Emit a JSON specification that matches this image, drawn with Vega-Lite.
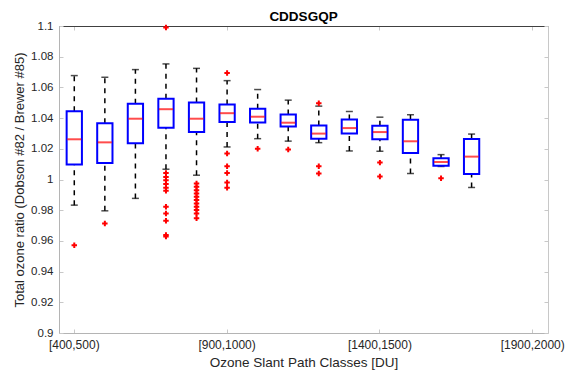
{
  "$schema": "https://vega.github.io/schema/vega-lite/v6.json",
  "width": 489,
  "height": 307,
  "autosize": {"type": "none"},
  "padding": {"left": 59, "top": 26, "right": 27, "bottom": 42},
  "background": "white",
  "title": {"text": "CDDSGQP", "fontSize": 13.5, "fontWeight": "bold", "color": "#000000", "font": "Liberation Sans", "offset": -3, "anchor": "middle"},
  "config": {
    "view": {"stroke": null},
    "font": "Liberation Sans"
  },
  "datasets": {
    "classes": [
      {"cls": "[400,500)"}, {"cls": "[500,600)"}, {"cls": "[600,700)"}, {"cls": "[700,800)"},
      {"cls": "[800,900)"}, {"cls": "[900,1000)"}, {"cls": "[1000,1100)"}, {"cls": "[1100,1200)"},
      {"cls": "[1200,1300)"}, {"cls": "[1300,1400)"}, {"cls": "[1400,1500)"}, {"cls": "[1500,1600)"},
      {"cls": "[1600,1700)"}, {"cls": "[1700,1800)"}, {"cls": "[1800,1900)"}, {"cls": "[1900,2000)"}
    ],
    "boxes": [
      {"cls": "[400,500)", "lo": 0.9833, "q1": 1.0097, "med": 1.0262, "q3": 1.0445, "hi": 1.0677},
      {"cls": "[500,600)", "lo": 0.9796, "q1": 1.0108, "med": 1.0242, "q3": 1.0367, "hi": 1.0666},
      {"cls": "[600,700)", "lo": 0.9877, "q1": 1.0236, "med": 1.0396, "q3": 1.0493, "hi": 1.0716},
      {"cls": "[700,800)", "lo": 1.0067, "q1": 1.0337, "med": 1.0458, "q3": 1.0526, "hi": 1.0753},
      {"cls": "[800,900)", "lo": 1.0028, "q1": 1.0309, "med": 1.0396, "q3": 1.0502, "hi": 1.0724},
      {"cls": "[900,1000)", "lo": 1.0212, "q1": 1.0374, "med": 1.0432, "q3": 1.0489, "hi": 1.0644},
      {"cls": "[1000,1100)", "lo": 1.0266, "q1": 1.0372, "med": 1.0409, "q3": 1.0461, "hi": 1.0586},
      {"cls": "[1100,1200)", "lo": 1.025, "q1": 1.0346, "med": 1.037, "q3": 1.0424, "hi": 1.0517},
      {"cls": "[1200,1300)", "lo": 1.024, "q1": 1.0266, "med": 1.0299, "q3": 1.0352, "hi": 1.0478},
      {"cls": "[1300,1400)", "lo": 1.0186, "q1": 1.0299, "med": 1.0335, "q3": 1.0391, "hi": 1.0443},
      {"cls": "[1400,1500)", "lo": 1.0184, "q1": 1.0262, "med": 1.0309, "q3": 1.035, "hi": 1.0406},
      {"cls": "[1500,1600)", "lo": 1.0039, "q1": 1.0173, "med": 1.0249, "q3": 1.0389, "hi": 1.0422},
      {"cls": "[1600,1700)", "lo": 1.0085, "q1": 1.009, "med": 1.0114, "q3": 1.0138, "hi": 1.0162},
      {"cls": "[1700,1800)", "lo": 0.9948, "q1": 1.0036, "med": 1.0149, "q3": 1.0264, "hi": 1.0296}
    ],
    "outliers": [
      {"cls": "[400,500)", "v": 0.9572},
      {"cls": "[500,600)", "v": 0.9714},
      {"cls": "[700,800)", "v": 1.099},
      {"cls": "[700,800)", "v": 1.0043},
      {"cls": "[700,800)", "v": 1.0017},
      {"cls": "[700,800)", "v": 0.9995},
      {"cls": "[700,800)", "v": 0.997},
      {"cls": "[700,800)", "v": 0.9946},
      {"cls": "[700,800)", "v": 0.9926},
      {"cls": "[700,800)", "v": 0.9822},
      {"cls": "[700,800)", "v": 0.9779},
      {"cls": "[700,800)", "v": 0.9731},
      {"cls": "[700,800)", "v": 0.9639},
      {"cls": "[700,800)", "v": 0.9628},
      {"cls": "[800,900)", "v": 0.9974},
      {"cls": "[800,900)", "v": 0.9952},
      {"cls": "[800,900)", "v": 0.993},
      {"cls": "[800,900)", "v": 0.9909},
      {"cls": "[800,900)", "v": 0.9887},
      {"cls": "[800,900)", "v": 0.9866},
      {"cls": "[800,900)", "v": 0.9844},
      {"cls": "[800,900)", "v": 0.9822},
      {"cls": "[800,900)", "v": 0.9801},
      {"cls": "[800,900)", "v": 0.9779},
      {"cls": "[800,900)", "v": 0.9747},
      {"cls": "[900,1000)", "v": 1.0694},
      {"cls": "[900,1000)", "v": 1.0169},
      {"cls": "[900,1000)", "v": 1.0086},
      {"cls": "[900,1000)", "v": 1.0043},
      {"cls": "[900,1000)", "v": 0.998},
      {"cls": "[900,1000)", "v": 0.9946},
      {"cls": "[1000,1100)", "v": 1.0201},
      {"cls": "[1100,1200)", "v": 1.0195},
      {"cls": "[1200,1300)", "v": 1.0497},
      {"cls": "[1200,1300)", "v": 1.0086},
      {"cls": "[1200,1300)", "v": 1.0039},
      {"cls": "[1400,1500)", "v": 1.011},
      {"cls": "[1400,1500)", "v": 1.0019},
      {"cls": "[1600,1700)", "v": 1.0008}
    ]
  },
  "layer": [
    {
      "data": {"name": "classes"},
      "mark": {"type": "point", "opacity": 0},
      "encoding": {
        "x": {
          "field": "cls", "type": "ordinal", "sort": null,
          "scale": {"type": "band", "paddingInner": 0, "paddingOuter": 0},
          "axis": {
            "orient": "bottom",
            "values": ["[400,500)", "[900,1000)", "[1400,1500)", "[1900,2000)"],
            "labelAngle": 0, "bandPosition": 0.5,
            "tickSize": -4, "tickColor": "#c8c8c8", "domainColor": "#b4b4b4",
            "labelPadding": 10, "labelFontSize": 12, "labelColor": "#262626",
            "title": "Ozone Slant Path Classes [DU]", "titleFontSize": 13.5, "titleFontWeight": "normal",
            "titleColor": "#262626", "titlePadding": 5, "grid": false
          }
        },
        "y": {
          "datum": 1, "type": "quantitative",
          "scale": {"domain": [0.9, 1.1], "nice": false, "zero": false},
          "axis": {
            "orient": "left",
            "values": [0.9, 0.92, 0.94, 0.96, 0.98, 1.0, 1.02, 1.04, 1.06, 1.08, 1.1],
            "format": ".2~f",
            "tickSize": -4, "tickColor": "#c8c8c8", "domainColor": "#b4b4b4",
            "labelPadding": 10, "labelFontSize": 11.5, "labelColor": "#262626",
            "title": "Total ozone ratio (Dobson #82 / Brewer #85)", "titleFontSize": 13, "titleFontWeight": "normal",
            "titleColor": "#262626", "titlePadding": 4, "grid": false
          }
        }
      }
    },
    {
      "data": {"name": "classes"},
      "mark": {"type": "point", "opacity": 0},
      "encoding": {
        "x": {
          "field": "cls", "type": "ordinal", "sort": null,
          "axis": {
            "orient": "top",
            "values": ["[400,500)", "[900,1000)", "[1400,1500)", "[1900,2000)"],
            "labels": false, "bandPosition": 0.5,
            "tickSize": -4, "tickColor": "#c8c8c8", "domainColor": "#404040",
            "title": null, "grid": false
          }
        },
        "y": {
          "datum": 1, "type": "quantitative",
          "axis": {
            "orient": "right",
            "values": [0.9, 0.92, 0.94, 0.96, 0.98, 1.0, 1.02, 1.04, 1.06, 1.08, 1.1],
            "labels": false,
            "tickSize": -4, "tickColor": "#c8c8c8", "domainColor": "#c8c8c8",
            "title": null, "grid": false
          }
        }
      }
    },
    {
      "mark": {"type": "rule", "color": "#9fc5e8", "strokeWidth": 1},
      "encoding": {"y": {"datum": 1, "type": "quantitative", "axis": null}}
    },
    {
      "data": {"name": "boxes"},
      "mark": {"type": "rule", "color": "#000000", "strokeWidth": 1.5, "strokeDash": [5, 5]},
      "encoding": {
        "x": {"field": "cls", "type": "ordinal", "sort": null, "axis": null},
        "y": {"field": "q3", "type": "quantitative", "axis": null},
        "y2": {"field": "hi"}
      }
    },
    {
      "data": {"name": "boxes"},
      "mark": {"type": "rule", "color": "#000000", "strokeWidth": 1.5, "strokeDash": [5, 5]},
      "encoding": {
        "x": {"field": "cls", "type": "ordinal", "sort": null, "axis": null},
        "y": {"field": "lo", "type": "quantitative", "axis": null},
        "y2": {"field": "q1"}
      }
    },
    {
      "data": {"name": "boxes"},
      "mark": {"type": "tick", "color": "#000000", "size": 7, "thickness": 1.5, "orient": "horizontal"},
      "encoding": {
        "x": {"field": "cls", "type": "ordinal", "sort": null, "axis": null},
        "y": {"field": "hi", "type": "quantitative", "axis": null}
      }
    },
    {
      "data": {"name": "boxes"},
      "mark": {"type": "tick", "color": "#000000", "size": 7, "thickness": 1.5, "orient": "horizontal"},
      "encoding": {
        "x": {"field": "cls", "type": "ordinal", "sort": null, "axis": null},
        "y": {"field": "lo", "type": "quantitative", "axis": null}
      }
    },
    {
      "data": {"name": "boxes"},
      "mark": {"type": "bar", "fill": "white", "stroke": "#0000ff", "strokeWidth": 2, "width": {"band": 0.5}},
      "encoding": {
        "x": {"field": "cls", "type": "ordinal", "sort": null, "axis": null},
        "y": {"field": "q1", "type": "quantitative", "axis": null},
        "y2": {"field": "q3"}
      }
    },
    {
      "data": {"name": "boxes"},
      "mark": {"type": "tick", "color": "#ff0000", "size": 14, "thickness": 2, "orient": "horizontal"},
      "encoding": {
        "x": {"field": "cls", "type": "ordinal", "sort": null, "axis": null},
        "y": {"field": "med", "type": "quantitative", "axis": null}
      }
    },
    {
      "data": {"name": "outliers"},
      "mark": {"type": "point", "shape": "M-1,0H1M0,-1V1", "filled": false, "stroke": "#ff0000", "strokeWidth": 2, "size": 30, "opacity": 1},
      "encoding": {
        "x": {"field": "cls", "type": "ordinal", "sort": null, "axis": null},
        "y": {"field": "v", "type": "quantitative", "axis": null}
      }
    }
  ],
  "resolve": {"axis": {"x": "independent", "y": "independent"}}
}
